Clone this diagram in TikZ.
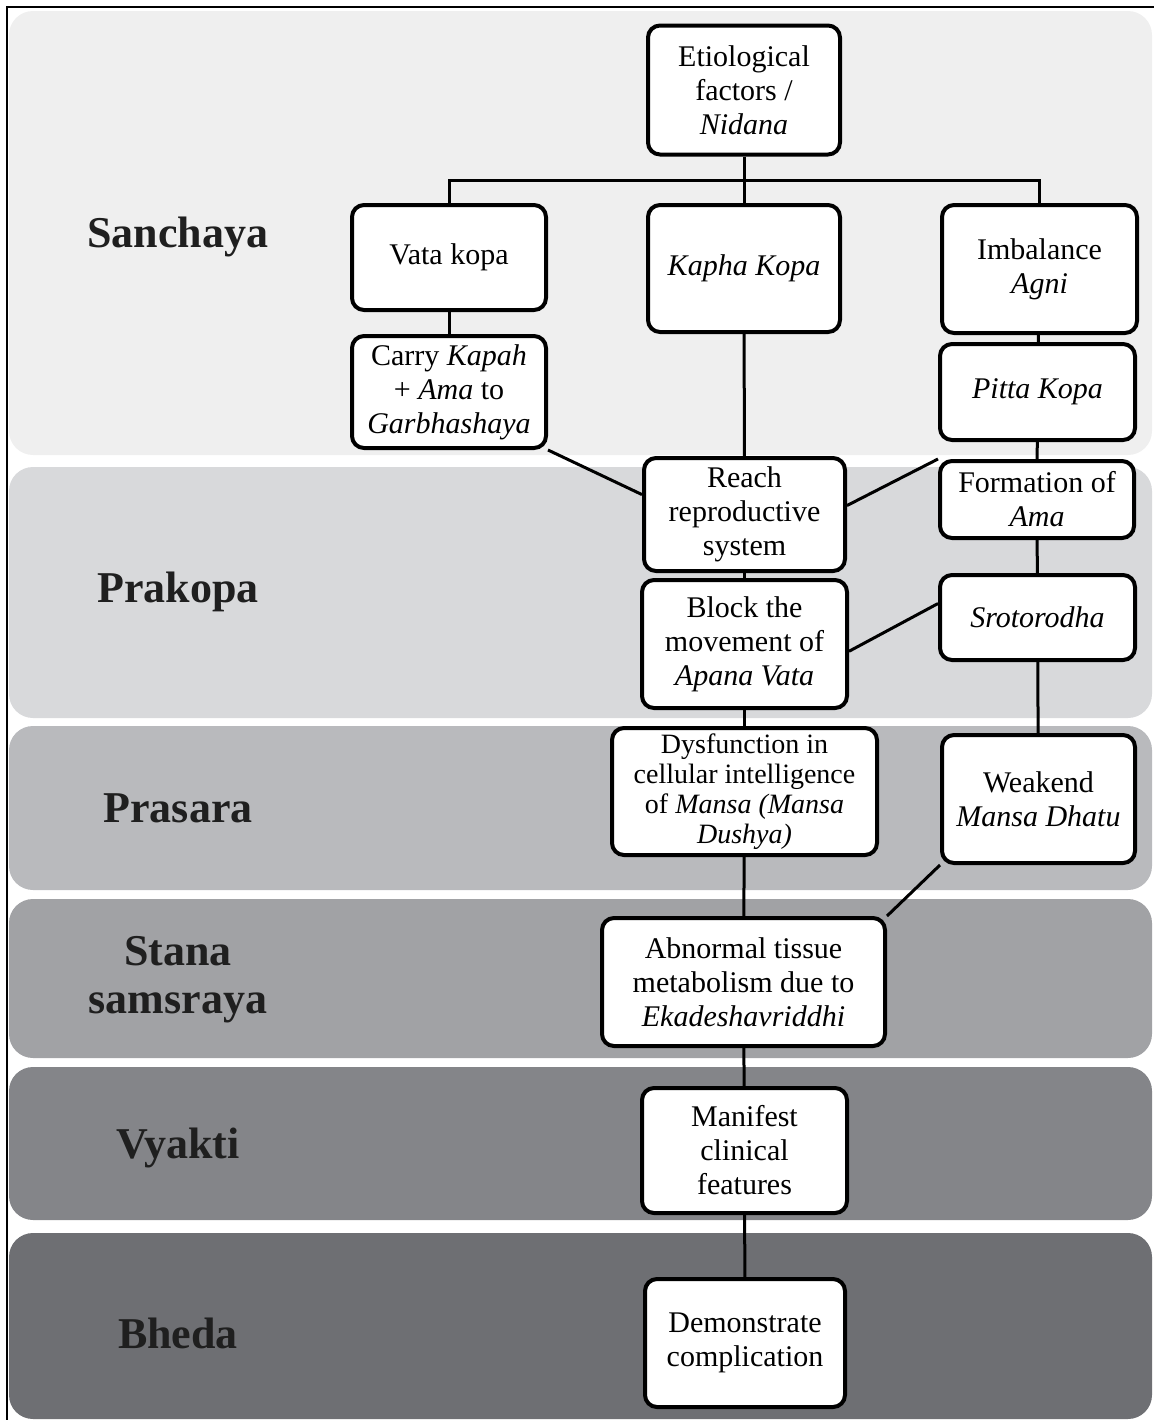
\documentclass[tikz,border=0pt]{standalone}
\usepackage{fontspec}
\setmainfont{Liberation Serif}
\definecolor{sanchaya}{RGB}{239,239,239}
\definecolor{prakopa}{RGB}{216,217,219}
\definecolor{prasara}{RGB}{185,186,189}
\definecolor{stana}{RGB}{161,162,165}
\definecolor{vyakti}{RGB}{132,133,137}
\definecolor{bheda}{RGB}{110,111,115}
\usetikzlibrary{positioning}

\begin{document}
\begin{tikzpicture}[x=0.5pt,y=0.5pt,yscale=-1,xscale=1,
	band/.style={rounded corners=12pt},
	stage/.style={font=\fontsize{22}{24}\selectfont\bfseries, text=black!88, align=center},
	box/.style={draw, line width=2pt, rounded corners=6pt, fill=white, align=center, inner sep=2pt, font=\fontsize{15}{17}\selectfont},
	link/.style={line width=1.5pt}]
	\useasboundingbox (0,0) rectangle (1154,1420);
	
	%Shape: Frame
	\draw [line width=0.8pt] (7,1420) -- (7,7) -- (1154,7);
	%Shape: Bands
	\fill [sanchaya, band] (9,11) rectangle (1152,455);
	\fill [prakopa, band] (9,467) rectangle (1152,718);
	\fill [prasara, band] (9,726) rectangle (1152,890);
	\fill [stana, band] (9,899) rectangle (1152,1058);
	\fill [vyakti, band] (9,1067) rectangle (1152,1220);
	\fill [bheda, band] (9,1233) rectangle (1152,1419);
	
	% Text Node
	\node [stage] (sanchaya) at (178,237) {Sanchaya};
	% Text Node
	\node [stage] (prakopa) at (178,592) {Prakopa};
	% Text Node
	\node [stage] (prasara) at (178,808) {Prasara};
	% Text Node
	\node [stage] (stana) at (178,980) {Stana\\ samsraya};
	% Text Node
	\node [stage] (vyakti) at (178,1148) {Vyakti};
	% Text Node
	\node [stage] (bheda) at (178,1333) {Bheda};
	
	% Boxes
	\node [box, minimum width=96pt, minimum height=64.5pt] (nidana) at (744,90) {Etiological\\ factors /\\ \textit{Nidana}};
	\node [box, minimum width=97pt, minimum height=52.5pt] (vata) at (449,257.5) {Vata kopa};
	\node [box, minimum width=96pt, minimum height=63.5pt] (kapha) at (744,268.5) {\textit{Kapha Kopa}};
	\node [box, minimum width=97.5pt, minimum height=64pt] (agni) at (1039.5,269) {Imbalance\\ \textit{Agni}};
	\node [box, minimum width=97pt, minimum height=56pt] (carry) at (449,392) {Carry \textit{Kapah}\\ + \textit{Ama} to\\ \textit{Garbhashaya}};
	\node [box, minimum width=97.5pt, minimum height=48pt] (pitta) at (1037.5,392) {\textit{Pitta Kopa}};
	\node [box, minimum width=100.5pt, minimum height=56.5pt] (reach) at (744.5,514.5) {Reach\\ reproductive\\ system};
	\node [box, minimum width=97pt, minimum height=38.5pt] (ama) at (1037,499.5) {Formation of\\ \textit{Ama}};
	\node [box, minimum width=102.5pt, minimum height=64pt] (block) at (744.5,644) {Block the\\ movement of\\ \textit{Apana Vata}};
	\node [box, minimum width=97.5pt, minimum height=42.5pt] (sroto) at (1037.5,617.5) {\textit{Srotorodha}};
	\node [box, minimum width=132.5pt, minimum height=63.5pt, font=\fontsize{14}{15}\selectfont] (dysf) at (744.5,791.5) {Dysfunction in\\ cellular intelligence\\ of \textit{Mansa (Mansa}\\ \textit{Dushya)}};
	\node [box, minimum width=96.5pt, minimum height=64pt] (weak) at (1038.5,799) {Weakend\\ \textit{Mansa Dhatu}};
	\node [box, minimum width=141.5pt, minimum height=64pt] (abnormal) at (743.5,982) {Abnormal tissue\\ metabolism due to\\ \textit{Ekadeshavriddhi}};
	\node [box, minimum width=102.5pt, minimum height=62.5pt] (manifest) at (744.5,1150.5) {Manifest\\ clinical\\ features};
	\node [box, minimum width=100pt, minimum height=64pt] (demonstrate) at (745,1343) {Demonstrate\\ complication};
	
	% Links
	\coordinate (bus) at (744,180);
	\draw [link] (nidana.south) -- (kapha.north);
	\draw [link] (vata.north) -- (vata.north |- bus) -- (agni.north |- bus) -- (agni.north);
	\draw [link] (vata) -- (carry);
	\draw [link] (agni) -- (pitta);
	\draw [link] (pitta) -- (ama);
	\draw [link] (ama) -- (sroto);
	\draw [link] (sroto) -- (weak);
	\draw [link] (kapha) -- (reach);
	\draw [link] (reach) -- (block);
	\draw [link] (block) -- (dysf);
	\draw [link] (dysf) -- (abnormal);
	\draw [link] (abnormal) -- (manifest);
	\draw [link] (manifest) -- (demonstrate);
	\draw [link] (carry.south east) -- (reach.169);
	\draw [link] (ama.north west) -- (reach.5);
	\draw [link] (sroto.172) -- (block.-4);
	\draw [link] (weak.south west) -- (abnormal.north east);
	
\end{tikzpicture}
\end{document}
